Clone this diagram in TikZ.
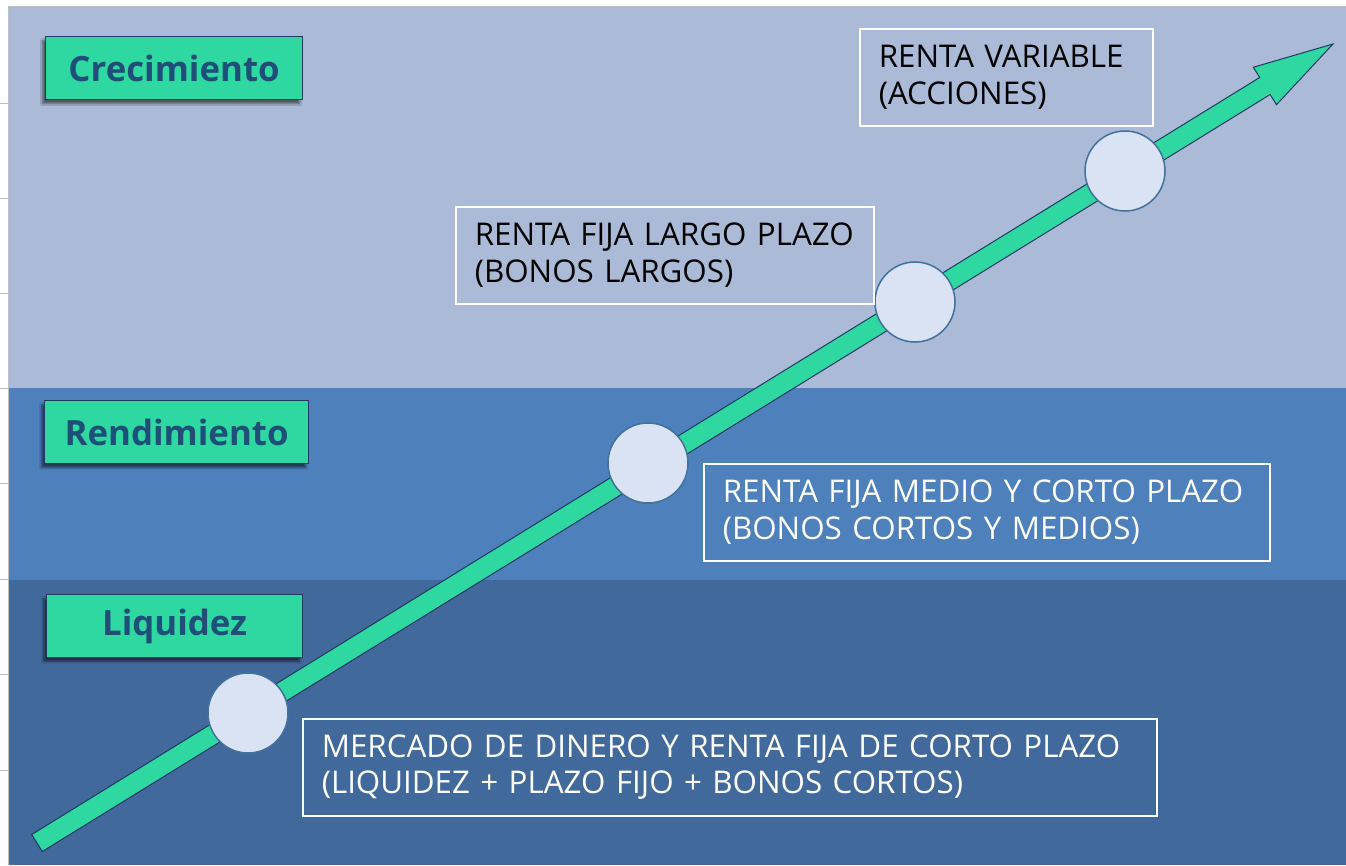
\documentclass[tikz,border=0pt]{standalone}
\usepackage{fontspec}
\setmainfont{Open Sans}
\usetikzlibrary{calc,shadows.blur}
\definecolor{bandTop}{HTML}{ABBAD7}
\definecolor{bandMid}{HTML}{4E80BB}
\definecolor{bandBot}{HTML}{41699B}
\definecolor{mint}{HTML}{2FD8A0}
\definecolor{navy}{HTML}{203864}
\definecolor{labeltext}{HTML}{1F4E79}
\definecolor{circfill}{HTML}{DAE3F3}
\definecolor{circline}{HTML}{41719C}
\definecolor{tickgrey}{HTML}{BFBFBF}
\begin{document}
\begin{tikzpicture}[x=1pt,y=-1pt,
  labelbox/.style={draw=navy, line width=1.2pt, fill=mint, text=labeltext,
    font=\fontsize{34.8}{40}\selectfont\bfseries, minimum height=63pt, inner sep=0pt,
    anchor=north west,
    blur shadow={shadow xshift=-3pt, shadow yshift=-4pt, shadow blur steps=8, shadow opacity=55}},
  infobox/.style={draw=white, line width=1.5pt, anchor=north west, align=left,
    inner xsep=19pt, inner ysep=0pt, minimum height=97pt,
    font=\fontsize{31.3}{36.5}\selectfont},
  stopcircle/.style={circle, draw=circline, line width=1.5pt, fill=circfill,
    minimum size=80pt, inner sep=0pt}]
\useasboundingbox (0,0) rectangle (1346,865);
\fill[white] (0,0) rectangle (1346,865);
% bands
\fill[bandTop] (8,7) rectangle (1346,388);
\fill[bandMid] (8,388) rectangle (1346,580);
\fill[bandBot] (8,580) rectangle (1346,865);
\draw[tickgrey, line width=0.8pt] (8,6.5) -- (1346,6.5);
\draw[tickgrey, line width=0.8pt] (8.5,7) -- (8.5,865);
\foreach \ty in {103,198,293,388,483,579,674,770}
  \draw[tickgrey, line width=0.8pt] (0,\ty) -- (8,\ty);
% arrow
\coordinate (tail) at (37,843);
\coordinate (tip) at (1333,44);
\coordinate (hb) at ($(tip)!80pt!(tail)$);
\filldraw[fill=mint, draw=navy, line width=1pt, line join=miter]
  ($(tail)!10pt!90:(tip)$) -- ($(hb)!10pt!-90:(tail)$) -- ($(hb)!22pt!-90:(tail)$)
  -- (tip) -- ($(hb)!22pt!90:(tail)$) -- ($(hb)!10pt!90:(tail)$)
  -- ($(tail)!10pt!-90:(tip)$) -- cycle;
% circles
\node[stopcircle] (c1) at (248,713) {};
\node[stopcircle] (c2) at (648,463) {};
\node[stopcircle] (c3) at (915,302) {};
\node[stopcircle] (c4) at (1125,171) {};
% labels
\node[labelbox, minimum width=257pt] (crec) at (45,36) {Crecimiento};
\node[labelbox, minimum width=264pt] (rend) at (44,400) {Rendimiento};
\node[labelbox, minimum width=256pt] (liq) at (46,594) {Liquidez};
% info boxes
\node[infobox, text width=255pt] (rv) at (859,28) {RENTA VARIABLE\\(ACCIONES)};
\node[infobox, text width=380pt] (rfl) at (455,206) {RENTA FIJA LARGO PLAZO\\(BONOS LARGOS)};
\node[infobox, text width=528pt, text=white] (rfm) at (703,463) {RENTA FIJA MEDIO Y CORTO PLAZO\\(BONOS CORTOS Y MEDIOS)};
\node[infobox, text width=816pt, text=white] (md) at (302,718) {MERCADO DE DINERO Y RENTA FIJA DE CORTO PLAZO\\(LIQUIDEZ + PLAZO FIJO + BONOS CORTOS)};
\end{tikzpicture}
\end{document}
